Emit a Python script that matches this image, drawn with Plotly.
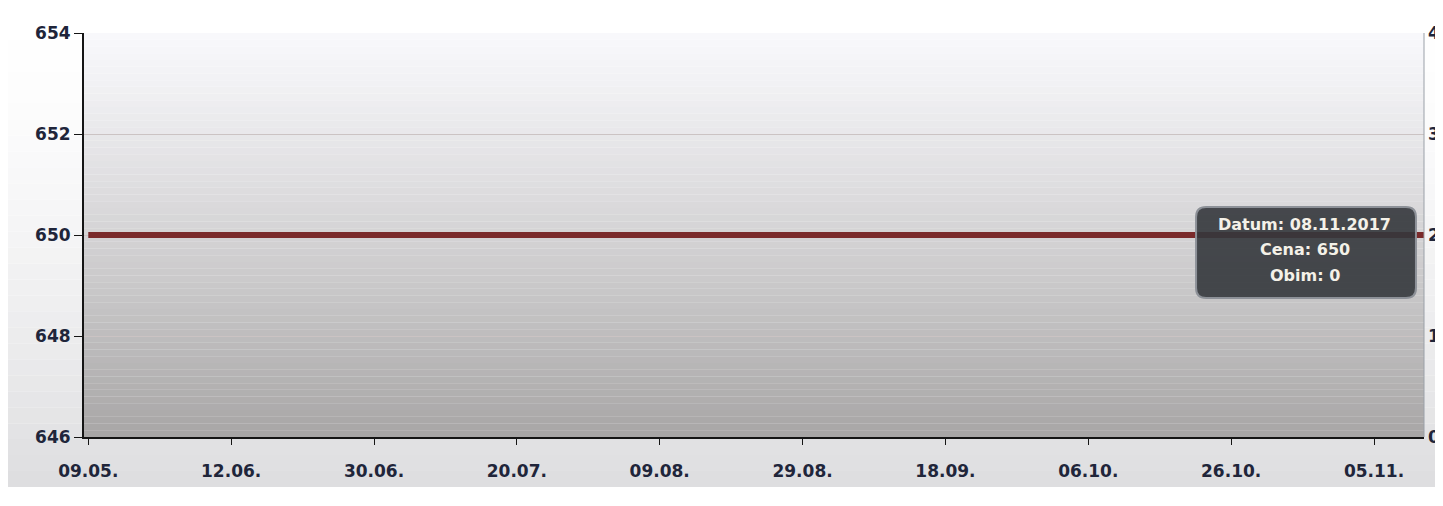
import plotly.graph_objects as go

# ---- data ----
categories = ["09.05.", "12.06.", "30.06.", "20.07.", "09.08.", "29.08.",
              "18.09.", "06.10.", "26.10.", "05.11.", "08.11."]
price = [650, 650, 650, 650, 650, 650, 650, 650, 650, 650, 650]
volume = [0, 0, 0, 0, 0, 0, 0, 0, 0, 0, 0]
tick_labels = ["09.05.", "12.06.", "30.06.", "20.07.", "09.08.", "29.08.",
               "18.09.", "06.10.", "26.10.", "05.11."]
price_ticks = [646, 648, 650, 652, 654]
volume_ticks = [0, 1, 2, 3, 4]
tooltip_date = "08.11.2017"

FONT = "DejaVu Sans"
TXT = "#20253a"

fig = go.Figure()
fig.add_trace(go.Bar(x=categories, y=volume, yaxis="y2", marker_color="#888",
                     marker_line_width=0, showlegend=False, hoverinfo="skip"))
fig.add_trace(go.Scatter(x=categories, y=price, mode="lines",
                         line=dict(color="#7a2a2b", width=6), showlegend=False))


def lerp(a, b, t):
    return "rgb(%d,%d,%d)" % tuple(int(round(a[k] + (b[k] - a[k]) * t)) for k in range(3))


shapes = []
# page gradient (white at top -> light grey behind the x labels)
PL, PR, PB, PT = -76 / 1340, 1 + 19 / 1340, -50 / 404, 1 + 25 / 404
m = 30
for i in range(m):
    t = i / (m - 1)
    shapes.append(dict(type="rect", xref="paper", yref="paper",
                       x0=PL, x1=PR, y0=PT - (i + 1) * (PT - PB) / m,
                       y1=PT - i * (PT - PB) / m,
                       fillcolor=lerp((255, 255, 255), (222, 222, 224), t ** 1.5),
                       line=dict(width=0), layer="below"))
# plot-area gradient (white at top -> grey at bottom)
n = 60
for i in range(n):
    t = i / (n - 1)
    shapes.append(dict(type="rect", xref="x domain", yref="y domain",
                       x0=0, x1=1, y0=1 - (i + 1) / n, y1=1 - i / n,
                       fillcolor=lerp((248, 248, 251), (168, 166, 166), t ** 1.15),
                       line=dict(width=0), layer="below"))
# right border of plot area
shapes.append(dict(type="line", xref="x domain", yref="y domain", x0=1, x1=1,
                   y0=0, y1=1, line=dict(color="#9aa0a8", width=1)))

# rounded tooltip box
bx0, bx1, by0, by1 = 0.8299, 0.9940, 0.3441, 0.5693
rx, ry = 10 / 1340, 10 / 404
path = ("M %f,%f L %f,%f Q %f,%f %f,%f L %f,%f Q %f,%f %f,%f L %f,%f Q %f,%f %f,%f "
        "L %f,%f Q %f,%f %f,%f Z") % (
    bx0 + rx, by1, bx1 - rx, by1, bx1, by1, bx1, by1 - ry,
    bx1, by0 + ry, bx1, by0, bx1 - rx, by0,
    bx0 + rx, by0, bx0, by0, bx0, by0 + ry,
    bx0, by1 - ry, bx0, by1, bx0 + rx, by1)
shapes.append(dict(type="path", xref="paper", yref="paper", path=path,
                   fillcolor="rgba(52,55,60,0.90)",
                   line=dict(color="#8d9198", width=2), layer="above"))

lines = ["Datum: %s" % tooltip_date, "Cena: %d" % price[-1], "Obim: %d" % volume[-1]]
line_y = [0.527, 0.463, 0.399]
annotations = [dict(xref="paper", yref="paper", x=0.911, y=yy, text="<b>%s</b>" % tx,
                    xanchor="center", yanchor="middle", showarrow=False,
                    font=dict(family=FONT, size=16, color="#f4f1e8"))
               for tx, yy in zip(lines, line_y)]

tick_font = dict(family=FONT, size=17, color=TXT, weight="bold")

fig.update_layout(
    width=1435, height=498,
    margin=dict(l=76, r=19, t=25, b=69, autoexpand=False),
    paper_bgcolor="#ffffff",
    plot_bgcolor="#d8d8d8",
    shapes=shapes,
    annotations=annotations,
    font=dict(family=FONT, size=17, color=TXT),
    xaxis=dict(type="category", categoryorder="array", categoryarray=categories,
               range=[-0.03, 9.35], tickvals=tick_labels, ticktext=tick_labels,
               showgrid=False, showline=True, linecolor="#151515", linewidth=2,
               ticks="outside", ticklen=6, tickcolor="#151515", ticklabelstandoff=12,
               tickfont=tick_font, zeroline=False, automargin=False),
    yaxis=dict(range=[646, 654], tickvals=price_ticks, showgrid=True,
               gridcolor="#cbc3c3", gridwidth=1, showline=True, linecolor="#151515",
               linewidth=2, ticks="outside", ticklen=8, tickcolor="#151515",
               tickfont=tick_font, zeroline=False, automargin=False),
    yaxis2=dict(range=[0, 4], tickvals=volume_ticks, overlaying="y", side="right",
                showgrid=False, showline=False, ticks="", zeroline=False,
                ticklabelstandoff=3, automargin=False, tickfont=tick_font),
)

fig.write_html("out.html")
